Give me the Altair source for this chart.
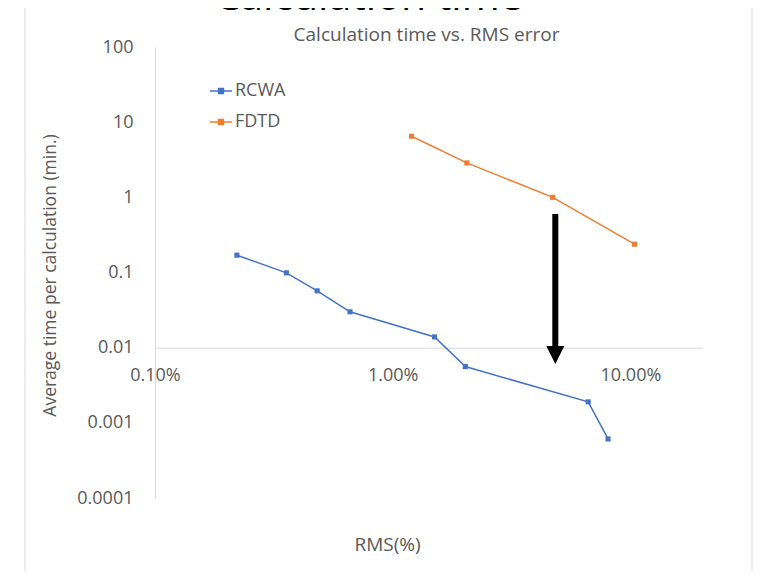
import altair as alt
import pandas as pd

# ---- data ----
series_names = ["RCWA", "FDTD"]
series_colors = ["#4472C4", "#ED7D31"]

rcwa_rms = [0.221, 0.357, 0.481, 0.661, 1.50, 2.02, 6.64, 8.05]          # %
rcwa_time = [0.170, 0.099, 0.057, 0.030, 0.0139, 0.0056, 0.0019, 0.00061]  # min

fdtd_rms = [1.20, 2.05, 4.71, 10.4]
fdtd_time = [6.5, 2.87, 1.0, 0.238]

x_ticks = [0.1, 1, 10]
y_ticks = [0.0001, 0.001, 0.01, 0.1, 1, 10, 100]

arrow_rms = [4.83]
arrow_top = [0.6]
arrow_base = [0.0105]
arrow_tip = [0.0080]

chart_title = "Calculation time vs. RMS error"
big_title = "Calculation time"
x_title = "RMS(%)"
y_title = "Average time per calculation (min.)"

# ---- tables ----
df = pd.DataFrame(
    {
        "rms": rcwa_rms + fdtd_rms,
        "time": rcwa_time + fdtd_time,
        "series": ["RCWA"] * len(rcwa_rms) + ["FDTD"] * len(fdtd_rms),
    }
)
rule_df = pd.DataFrame({"rms": arrow_rms, "time": arrow_top, "time2": arrow_base})
head_df = pd.DataFrame({"rms": arrow_rms, "time": arrow_tip})
one = pd.DataFrame({"k": [0]})

FONT = "Open Sans"
GREY = "#595959"
LINE = "#D9D9D9"

x_scale = alt.Scale(type="log", domain=[0.1, 20], nice=False)
y_scale = alt.Scale(type="log", domain=[0.0001, 100], nice=False)

x_axis = alt.Axis(
    values=x_ticks,
    labelExpr="format(datum.value, '.2f') + '%'",
    labelFlush=False,
    grid=False,
    ticks=False,
    domainColor=LINE,
    domainWidth=1,
    offset=-150.3,
    labelPadding=19,
    labelFontSize=18,
    labelColor=GREY,
    labelFont=FONT,
    title=x_title,
    titleFont=FONT,
    titleFontSize=19,
    titleFontWeight="normal",
    titleColor=GREY,
    titleX=232,
    titleY=197,
    titleBaseline="middle",
)
y_axis = alt.Axis(
    values=y_ticks,
    format="~g",
    grid=False,
    ticks=False,
    domainColor=LINE,
    domainWidth=1,
    labelPadding=22,
    labelFontSize=18,
    labelColor=GREY,
    labelFont=FONT,
    title=y_title,
    titleFont=FONT,
    titleFontSize=17.5,
    titleFontWeight="normal",
    titleColor=GREY,
    titleX=-105,
    titleY=228,
    titleBaseline="middle",
)

X = alt.X("rms:Q", scale=x_scale, axis=x_axis)
Y = alt.Y("time:Q", scale=y_scale, axis=y_axis)

legend_symbol = (
    "M-1,0L1,0"
    "M-0.22,-0.22L0.22,-0.22L0.22,0.22L-0.22,0.22Z"
    "M-0.12,-0.12L0.12,-0.12L0.12,0.12L-0.12,0.12Z"
    "M-0.03,-0.03L0.03,-0.03L0.03,0.03L-0.03,0.03Z"
)

lines = (
    alt.Chart(df)
    .mark_line(
        strokeWidth=1.5,
        point=alt.OverlayMarkDef(shape="square", filled=True, size=26, opacity=1),
    )
    .encode(
        x=X,
        y=Y,
        color=alt.Color(
            "series:N",
            scale=alt.Scale(domain=series_names, range=series_colors),
            sort=series_names,
            legend=alt.Legend(
                orient="none",
                legendX=54,
                legendY=32,
                title=None,
                padding=0,
                symbolType=legend_symbol,
                symbolSize=484,
                symbolStrokeWidth=1.5,
                labelFont=FONT,
                labelFontSize=18,
                labelColor=GREY,
                labelOffset=2,
                rowPadding=10,
            ),
        ),
    )
)

arrow_shaft = (
    alt.Chart(rule_df)
    .mark_rule(color="black", strokeWidth=6)
    .encode(x=X, y=Y, y2="time2:Q")
)
arrow_head = (
    alt.Chart(head_df)
    .mark_point(shape="M-1,-1L1,-1L0,1Z", filled=True, color="black", size=324, opacity=1)
    .encode(x=X, y=Y)
)

frame = (
    alt.Chart(one)
    .mark_rect(fillOpacity=0, stroke=LINE, strokeWidth=1)
    .encode(
        x=alt.value(-130),
        x2=alt.value(597),
        y=alt.value(-42),
        y2=alt.value(560),
    )
)

big = (
    alt.Chart(one)
    .mark_text(
        text=big_title,
        font=FONT,
        fontSize=41,
        color="black",
        align="center",
        baseline="alphabetic",
    )
    .encode(x=alt.value(213.5), y=alt.value(-37.5))
)

title = (
    alt.Chart(one)
    .mark_text(
        text=chart_title,
        font=FONT,
        fontSize=19,
        color=GREY,
        align="center",
        baseline="middle",
    )
    .encode(x=alt.value(271.5), y=alt.value(-12.5))
)

chart = (
    alt.layer(frame, big, title, lines, arrow_shaft, arrow_head)
    .properties(
        width=547,
        height=451,
        padding={"left": 147, "top": 39, "right": 52, "bottom": 73},
        autosize=alt.AutoSizeParams(type="none"),
    )
    .configure_view(stroke=None)
)

chart.save("out.html", embed_options={"renderer": "svg", "actions": False})
